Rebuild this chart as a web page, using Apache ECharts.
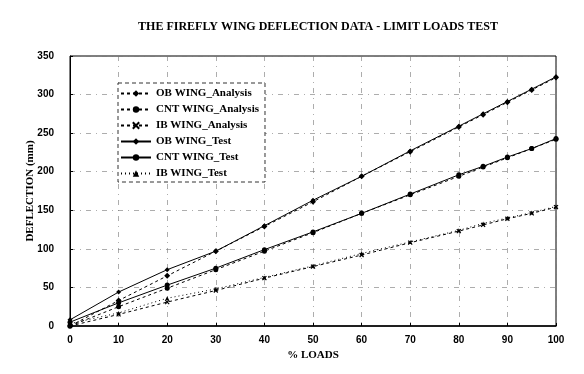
<!DOCTYPE html>
<html>
<head>
<meta charset="utf-8">
<script src="https://cdn.jsdelivr.net/npm/echarts@6/dist/echarts.min.js"></script>
<style>
html,body{margin:0;padding:0;background:#fff;}
#chart{width:584px;height:374px;}
</style>
</head>
<body>
<div id="chart"></div>
<script>
// % loads
var loads = [0, 10, 20, 30, 40, 50, 60, 70, 80, 85, 90, 95, 100];
var yTicks = [0, 50, 100, 150, 200, 250, 300, 350];

// deflection (mm)
var obAnalysis  = [0, 33, 65, 97, 129, 161, 194, 226, 258, 274, 290, 306, 322];
var cntAnalysis = [0, 25, 49, 73, 97, 121, 146, 170, 194, 206, 218, 230, 242];
var ibAnalysis  = [0, 15, 31, 46, 62, 77, 92, 108, 123, 131, 139, 146, 154];
var obTest  = [8, 44, 73, 97, 130, 163, 194, 227, 259, 275, 291, 307, 323];
var cntTest = [5, 30, 53, 75, 99, 122, 146, 171, 196, 207, 219, 230, 243];
var ibTest  = [3, 17, 36, 48, 63, 78, 94, 109, 124, 133, 140, 147, 155];

var crossIcon = 'path://M0,0L2,2M2,0L0,2';

function pairs(v){
    var out = [];
    for (var i = 0; i < loads.length; i++) out.push([loads[i], v[i]]);
    return out;
}

function mk(name, vals, symbol, size, lineType){
    return {
        name: name,
        type: 'line',
        data: pairs(vals),
        symbol: symbol,
        symbolSize: size,
        showSymbol: true,
        itemStyle: {color: '#000', borderColor: '#000', borderWidth: symbol === crossIcon ? 1.2 : 0},
        lineStyle: {color: '#000', width: 1, type: lineType},
        animation: false
    };
}

var serif = '"Liberation Serif", "DejaVu Serif", serif';
var sans = '"Liberation Sans", Arial, sans-serif';

var myChart = echarts.init(document.getElementById('chart'));
myChart.setOption({
    backgroundColor: '#fff',
    title: {
        text: 'THE FIREFLY WING DEFLECTION DATA - LIMIT LOADS TEST',
        left: 313,
        textAlign: 'center',
        top: 16,
        textStyle: {fontFamily: serif, fontWeight: 'bold', fontSize: 12, color: '#000'}
    },
    legend: {
        orient: 'vertical',
        left: 118,
        top: 83,
        itemWidth: 30,
        itemHeight: 8,
        itemGap: 5,
        padding: [5, 6, 3, 2],
        borderColor: '#333',
        borderWidth: 1,
        borderType: [4, 3],
        backgroundColor: '#fff',
        textStyle: {fontFamily: serif, fontWeight: 'bold', fontSize: 11, color: '#000'},
        data: ['OB WING_Analysis', 'CNT WING_Analysis', 'IB WING_Analysis',
               'OB WING_Test', 'CNT WING_Test', 'IB WING_Test']
    },
    grid: {
        left: 70, right: 28, top: 56, bottom: 48,
        show: true, borderColor: '#000', borderWidth: 1
    },
    xAxis: {
        type: 'value',
        min: 0, max: 100, interval: 10,
        name: '% LOADS',
        nameLocation: 'middle',
        nameGap: 24,
        nameTextStyle: {fontFamily: serif, fontWeight: 'bold', fontSize: 11, color: '#000'},
        axisLine: {lineStyle: {color: '#000', width: 1.5}},
        axisTick: {show: true, inside: true, length: 3, lineStyle: {color: '#000'}},
        axisLabel: {fontFamily: sans, fontWeight: 'bold', fontSize: 10, color: '#000', margin: 9},
        splitLine: {show: true, lineStyle: {color: '#777', width: 1, type: [5, 5, 1, 5], opacity: 0.6}}
    },
    yAxis: {
        type: 'value',
        min: 0, max: 350, interval: 50,
        name: 'DEFLECTION (mm)',
        nameLocation: 'middle',
        nameGap: 34,
        nameMoveOverlap: false,
        nameRotate: 90,
        nameTextStyle: {fontFamily: serif, fontWeight: 'bold', fontSize: 11, color: '#000'},
        axisLine: {show: true, lineStyle: {color: '#000', width: 1}},
        axisTick: {show: true, inside: true, length: 3, lineStyle: {color: '#000'}},
        axisLabel: {fontFamily: sans, fontWeight: 'bold', fontSize: 10, color: '#000', margin: 16,
            formatter: function(v){ return yTicks.indexOf(v) >= 0 ? String(v) : ''; }},
        splitLine: {show: true, lineStyle: {color: '#777', width: 1, type: [5, 5, 1, 5], opacity: 0.6}}
    },
    series: [
        mk('OB WING_Analysis', obAnalysis, 'diamond', 6, [3, 3]),
        mk('CNT WING_Analysis', cntAnalysis, 'circle', 5, [3, 3]),
        mk('IB WING_Analysis', ibAnalysis, crossIcon, 4, [3, 3]),
        mk('OB WING_Test', obTest, 'diamond', 5, 'solid'),
        mk('CNT WING_Test', cntTest, 'circle', 5, 'solid'),
        mk('IB WING_Test', ibTest, 'triangle', 4, [1, 3])
    ]
});
</script>
</body>
</html>
